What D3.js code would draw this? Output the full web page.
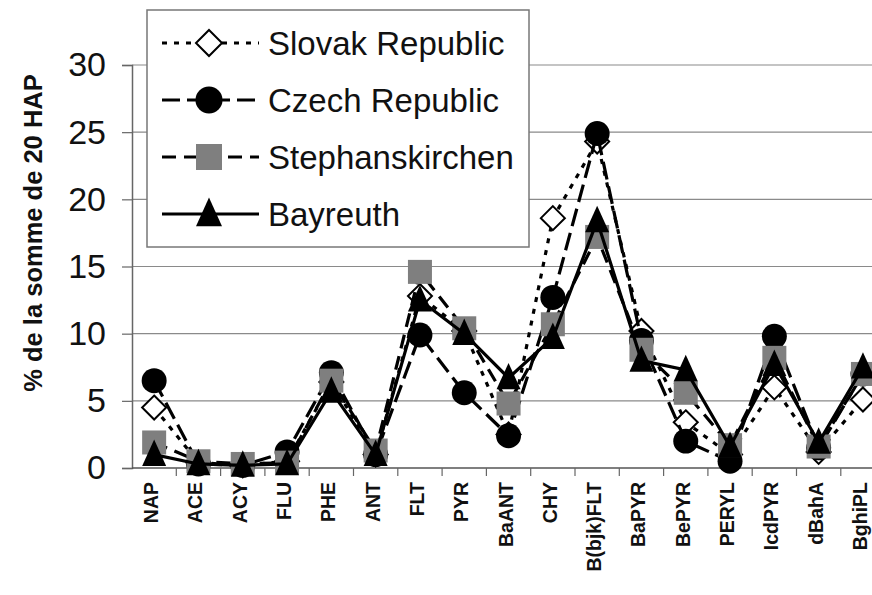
<!DOCTYPE html>
<html>
<head>
<meta charset="utf-8">
<script src="https://cdn.jsdelivr.net/npm/d3@7"></script>
<style>
  body { margin: 0; background: #fff; }
  svg { display: block; font-family: 'Liberation Sans', Arial, sans-serif; }
</style>
</head>
<body>
<div id="chart"></div>
<script>
// HAP profiles, % of the sum of 20 HAP
const categories = ['NAP', 'ACE', 'ACY', 'FLU', 'PHE', 'ANT', 'FLT', 'PYR', 'BaANT', 'CHY',
  'B(bjk)FLT', 'BaPYR', 'BePYR', 'PERYL', 'IcdPYR', 'dBahA', 'BghiPL'];
const yTicks = [0, 5, 10, 15, 20, 25, 30];
const seriesNames = ['Slovak Republic', 'Czech Republic', 'Stephanskirchen', 'Bayreuth'];
const slovak = [4.5, 0.4, 0.2, 0.5, 6.4, 1.0, 12.8, 10.2, 2.5, 18.6, 24.3, 10.2, 3.4, 1.0, 6.0, 1.2, 5.1];
const czech = [6.5, 0.3, 0.2, 1.2, 7.1, 1.0, 9.9, 5.6, 2.4, 12.7, 24.9, 9.5, 2.0, 0.5, 9.8, 1.5, 7.0];
const steph = [1.9, 0.5, 0.3, 0.4, 6.5, 1.3, 14.6, 10.4, 4.8, 10.7, 17.2, 8.8, 5.6, 1.7, 8.2, 1.6, 7.0];
const bayreuth = [1.0, 0.3, 0.2, 0.3, 5.7, 1.0, 12.5, 10.0, 6.7, 9.7, 18.4, 8.0, 7.3, 1.6, 7.7, 1.9, 7.5];

const width = 872;
const height = 595;
const left = 132;
const bandW = 44.3;

const svg = d3.select('#chart').append('svg')
  .attr('width', width)
  .attr('height', height);

const x = d3.scaleBand()
  .domain(categories)
  .range([left, left + bandW * categories.length]);

const y = d3.scaleLinear()
  .domain([0, 30])
  .range([468, 65]);

// Gridlines
svg.append('g')
  .selectAll('line')
  .data(yTicks.filter(d => d > 0))
  .join('line')
  .attr('x1', left)
  .attr('x2', width)
  .attr('y1', d => y(d))
  .attr('y2', d => y(d))
  .attr('stroke', '#8a8a8a')
  .attr('stroke-width', 1.2);

// Y axis
const yAxis = svg.append('g')
  .attr('transform', `translate(${left},0)`)
  .call(d3.axisLeft(y).tickValues(yTicks).tickSize(10).tickPadding(16));
yAxis.select('.domain').attr('stroke', '#666').attr('stroke-width', 1.5);
yAxis.selectAll('.tick line').attr('stroke', '#666').attr('stroke-width', 1.2);
yAxis.selectAll('.tick text')
  .attr('font-size', 34)
  .attr('font-family', "'Liberation Sans', Arial, sans-serif")
  .attr('fill', '#111');

// X axis: ticks between categories
const xAxis = svg.append('g')
  .attr('transform', `translate(0,${y(0)})`);
xAxis.append('line')
  .attr('x1', left)
  .attr('x2', width)
  .attr('stroke', '#555')
  .attr('stroke-width', 1.5);
xAxis.selectAll('line.tk')
  .data(categories)
  .join('line')
  .attr('class', 'tk')
  .attr('x1', d => x(d) + x.bandwidth())
  .attr('x2', d => x(d) + x.bandwidth())
  .attr('y1', 0)
  .attr('y2', 8)
  .attr('stroke', '#666')
  .attr('stroke-width', 1.2);

svg.append('g')
  .selectAll('text')
  .data(categories)
  .join('text')
  .attr('transform', d => `translate(${x(d) + x.bandwidth() / 2 - 3},482) rotate(-90)`)
  .attr('text-anchor', 'end')
  .attr('dy', '0.36em')
  .attr('font-size', 19.5)
  .attr('font-weight', 'bold')
  .attr('fill', '#111')
  .text(d => d);

// Y axis title
svg.append('text')
  .attr('transform', 'translate(33,233) rotate(-90)')
  .attr('text-anchor', 'middle')
  .attr('dy', '0.36em')
  .attr('font-size', 25.5)
  .attr('font-weight', 'bold')
  .attr('fill', '#111')
  .text('% de la somme de 20 HAP');

const styles = [
  { values: slovak, dash: '5,7', marker: 'diamond', fill: '#fff' },
  { values: czech, dash: '18,7', marker: 'circle', fill: '#000' },
  { values: steph, dash: '14,8', marker: 'square', fill: '#7f7f7f' },
  { values: bayreuth, dash: null, marker: 'triangle', fill: '#000' }
];

function drawMarker(g, type, fill, size) {
  if (type === 'circle') {
    g.append('circle')
      .attr('r', size * 0.52)
      .attr('fill', fill);
  } else if (type === 'square') {
    g.append('rect')
      .attr('x', -size / 2)
      .attr('y', -size / 2)
      .attr('width', size)
      .attr('height', size)
      .attr('fill', fill);
  } else if (type === 'triangle') {
    const h = size * 1.05;
    g.append('path')
      .attr('d', `M0,${-h * 0.6}L${size / 2},${h * 0.45}L${-size / 2},${h * 0.45}Z`)
      .attr('fill', fill);
  } else {
    const r = size * 0.5;
    g.append('path')
      .attr('d', `M0,${-r}L${r},0L0,${r}L${-r},0Z`)
      .attr('fill', fill)
      .attr('stroke', '#000')
      .attr('stroke-width', 2);
  }
}

const line = d3.line()
  .x((d, i) => x(categories[i]) + x.bandwidth() / 2)
  .y(d => y(d));

// Series lines and markers
styles.forEach(s => {
  const g = svg.append('g');
  g.append('path')
    .datum(s.values)
    .attr('d', line)
    .attr('fill', 'none')
    .attr('stroke', '#000')
    .attr('stroke-width', 3.2)
    .attr('stroke-dasharray', s.dash);
  s.values.forEach((v, i) => {
    const m = g.append('g')
      .attr('transform', `translate(${x(categories[i]) + x.bandwidth() / 2},${y(v)})`);
    drawMarker(m, s.marker, s.fill, 24);
  });
});

// Legend
const legend = svg.append('g');
legend.append('rect')
  .attr('x', 147)
  .attr('y', 10)
  .attr('width', 382)
  .attr('height', 237)
  .attr('fill', '#fff')
  .attr('stroke', '#777')
  .attr('stroke-width', 1.5);

styles.forEach((s, i) => {
  const ly = 43 + i * 57;
  legend.append('line')
    .attr('x1', 162)
    .attr('x2', 259)
    .attr('y1', ly)
    .attr('y2', ly)
    .attr('stroke', '#000')
    .attr('stroke-width', 3.2)
    .attr('stroke-dasharray', s.dash);
  const m = legend.append('g')
    .attr('transform', `translate(209,${ly})`);
  drawMarker(m, s.marker, s.fill, 26);
  legend.append('text')
    .attr('x', 268)
    .attr('y', ly)
    .attr('dy', '0.36em')
    .attr('font-size', 33)
    .attr('fill', '#111')
    .text(seriesNames[i]);
});
</script>
</body>
</html>
